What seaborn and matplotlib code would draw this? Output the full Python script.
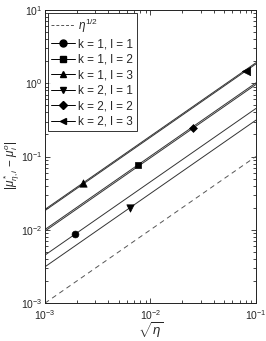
import numpy as np
import pandas as pd
import matplotlib
matplotlib.use("Agg")
import matplotlib.pyplot as plt
from matplotlib.lines import Line2D
import seaborn as sns

sns.set_style("ticks")
plt.rcParams['font.family'] = ['Liberation Sans', 'DejaVu Sans']
plt.rcParams['mathtext.fontset'] = 'custom'
plt.rcParams['mathtext.rm'] = 'Liberation Sans'
plt.rcParams['mathtext.it'] = 'Liberation Sans:italic'

# Data
labels = ["k = 1, l = 1", "k = 1, l = 2", "k = 1, l = 3",
          "k = 2, l = 1", "k = 2, l = 2", "k = 2, l = 3"]
markers = ["o", "s", "^", "v", "D", "<"]
line_x = [1e-3, 1e-1]
line_y = {
    "k = 1, l = 1": [0.00452, 0.452],
    "k = 1, l = 2": [0.0101, 1.01],
    "k = 1, l = 3": [0.0190, 1.90],
    "k = 2, l = 1": [0.00313, 0.313],
    "k = 2, l = 2": [0.0096, 0.96],
    "k = 2, l = 3": [0.0183, 1.83],
}
marker_x = [0.00192, 0.00761, 0.00229, 0.0064, 0.0253, 0.0804]
marker_y = [0.00868, 0.0769, 0.0435, 0.0200, 0.243, 1.47]
ref_x = [1e-3, 1e-1]
ref_y = [1e-3, 1e-1]

fig = plt.figure(figsize=(2.66, 3.41), dpi=100)
ax = fig.add_axes([0.169, 0.111, 0.793, 0.860])

sns.lineplot(x=ref_x, y=ref_y, ax=ax, color="#555555", lw=0.7,
             linestyle=(0, (5, 4)), legend=False)
for lab in labels:
    sns.lineplot(x=line_x, y=line_y[lab], ax=ax, color="#333333", lw=0.7,
                 legend=False)
sizes = {"o": 24, "s": 20, "^": 28, "v": 28, "D": 16, "<": 36}
for mx, my, mk in zip(marker_x, marker_y, markers):
    sns.scatterplot(x=[mx], y=[my], ax=ax, marker=mk, color="black",
                    s=sizes[mk], edgecolor="black", linewidth=0.5,
                    legend=False, zorder=5)

ax.set_xscale("log")
ax.set_yscale("log")
ax.set_xlim(1e-3, 1e-1)
ax.set_ylim(1e-3, 1e1)
ax.tick_params(which="both", direction="in", top=True, right=True,
               labelsize=7.5, width=0.6)
ax.tick_params(axis="y", pad=2)
ax.tick_params(axis="x", pad=3.5)
ax.tick_params(which="major", length=3.5)
ax.tick_params(which="minor", length=2)
for s in ax.spines.values():
    s.set_linewidth(0.7)
    s.set_color("#222222")

ax.set_xlabel(r"$\sqrt{\eta}$", fontsize=9.5, labelpad=-1)
ax.set_ylabel(r"$|\mu^*_{\eta,i}\,-\,\mu^o_i|$", fontsize=8.5)
ax.yaxis.set_label_coords(-0.108, 0.47)

handles = [Line2D([], [], color="#555555", lw=0.7, linestyle=(0, (3, 2)))]
names = [r"$\eta^{1/2}$"]
for lab, mk in zip(labels, markers):
    handles.append(Line2D([], [], color="black", lw=0.7, marker=mk,
                          markersize=5 if mk not in ("D", "s") else 4.3))
    names.append(lab)
leg = ax.legend(handles, names, loc="upper left", fontsize=8.5,
                frameon=True, fancybox=False, edgecolor="black",
                borderpad=0.3, labelspacing=0.3, handlelength=2.0,
                handletextpad=0.25, borderaxespad=0.25)
leg.get_frame().set_linewidth(0.7)

fig.savefig("out.png", dpi=100)
